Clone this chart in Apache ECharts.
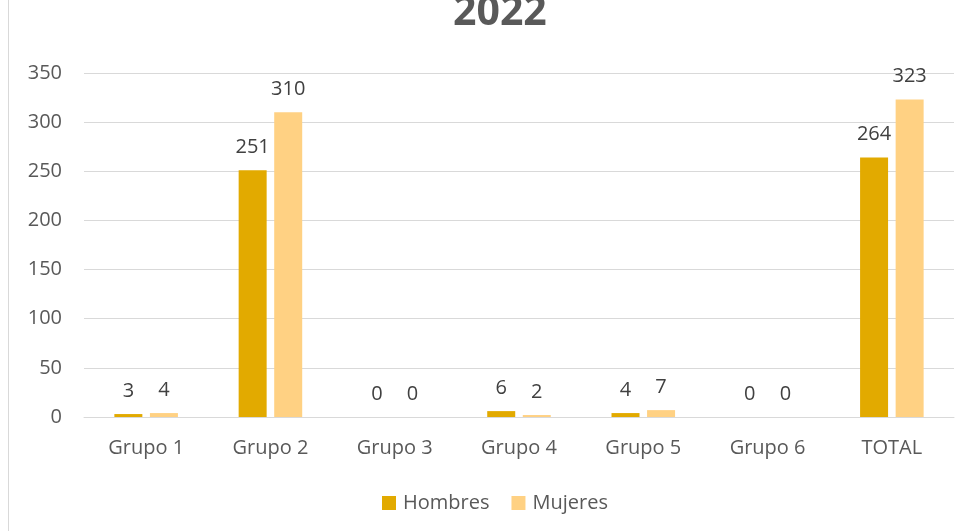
<!DOCTYPE html>
<html>
<head>
<meta charset="utf-8">
<script src="https://cdn.jsdelivr.net/npm/echarts@6/dist/echarts.min.js"></script>
<style>
  html, body { margin: 0; padding: 0; background: #fff; }
  #main { width: 971px; height: 531px; }
  .frame { position: absolute; left: 8px; top: 0; width: 1px; height: 531px; background: #d9d9d9; }
</style>
</head>
<body>
<div class="frame"></div>
<div id="main"></div>
<script>
const categories = ['Grupo 1', 'Grupo 2', 'Grupo 3', 'Grupo 4', 'Grupo 5', 'Grupo 6', 'TOTAL'];
const hombres = [3, 251, 0, 6, 4, 0, 264];
const mujeres = [4, 310, 0, 2, 7, 0, 323];
const seriesNames = ['Hombres', 'Mujeres'];

const font = '"Open Sans", sans-serif';
const chart = echarts.init(document.getElementById('main'));

chart.setOption({
  animation: false,
  title: {
    text: '2022',
    left: 448,
    top: -12,
    textStyle: { fontFamily: font, fontSize: 41, fontWeight: 'bold', color: '#595959' }
  },
  legend: {
    data: seriesNames,
    top: 488,
    left: 377,
    itemWidth: 14,
    itemHeight: 14,
    itemGap: 22,
    icon: 'rect',
    textStyle: { fontFamily: font, fontSize: 20, color: '#595959', padding: [0, 0, 0, 2] }
  },
  grid: { left: 84, right: 17, top: 73, bottom: 114 },
  xAxis: {
    type: 'category',
    data: categories,
    axisTick: { show: false },
    axisLine: { lineStyle: { color: '#d9d9d9', width: 1 } },
    axisLabel: { fontFamily: font, fontSize: 20, color: '#595959', margin: 21 }
  },
  yAxis: {
    type: 'value',
    min: 0,
    max: 350,
    interval: 50,
    axisLine: { show: false },
    axisTick: { show: false },
    splitLine: { lineStyle: { color: '#d9d9d9', width: 1 } },
    axisLabel: { fontFamily: font, fontSize: 20, color: '#595959', margin: 22 }
  },
  series: [
    {
      name: seriesNames[0],
      type: 'bar',
      data: hombres,
      barWidth: 28,
      barGap: '27%',
      itemStyle: { color: '#E2AA00' },
      label: { show: true, position: 'top', distance: 13, fontFamily: font, fontSize: 20, color: '#404040' }
    },
    {
      name: seriesNames[1],
      type: 'bar',
      data: mujeres,
      barWidth: 28,
      itemStyle: { color: '#FFD183' },
      label: { show: true, position: 'top', distance: 13, fontFamily: font, fontSize: 20, color: '#404040' }
    }
  ]
});
</script>
</body>
</html>
